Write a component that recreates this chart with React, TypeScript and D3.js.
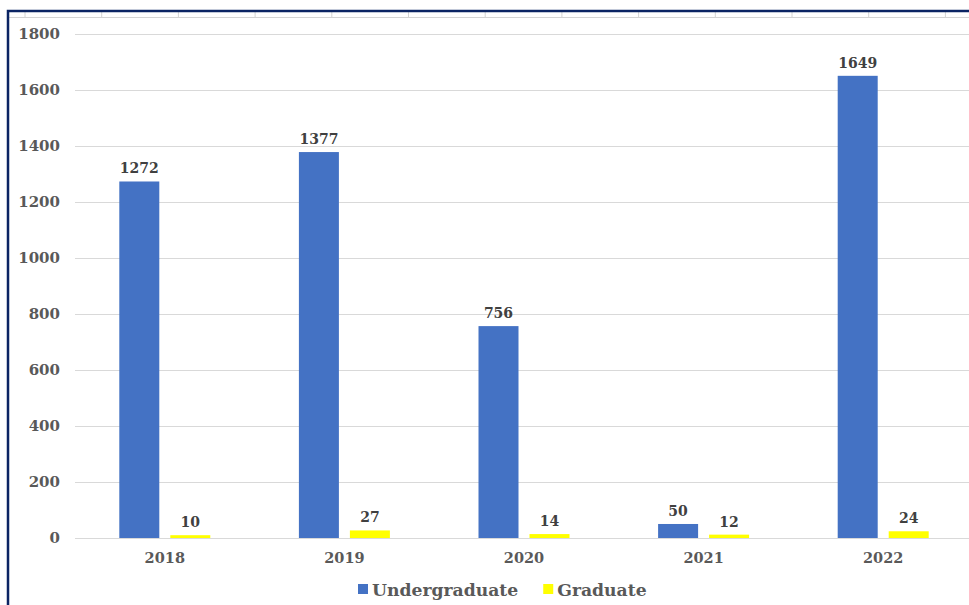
import React, { useEffect, useRef } from "react";
import * as d3 from "d3";

const years = ["2018", "2019", "2020", "2021", "2022"];
const undergraduate = [1272, 1377, 756, 50, 1649];
const graduate = [10, 27, 14, 12, 24];
const seriesNames = ["Undergraduate", "Graduate"];
const seriesColors = ["#4472C4", "#FFFF00"];
const yTicks = [0, 200, 400, 600, 800, 1000, 1200, 1400, 1600, 1800];

const W = 969;
const H = 605;
const FONT = "Georgia, 'DejaVu Serif', serif";

export default function App() {
  const svgRef = useRef<SVGSVGElement>(null);

  useEffect(() => {
    if (!svgRef.current) return;
    const svg = d3.select(svgRef.current);
    svg.selectAll("*").remove();

    svg.append("rect").attr("width", W).attr("height", H).attr("fill", "#fff");

    // spreadsheet frame behind the chart
    svg.append("line")
      .attr("x1", 9).attr("x2", W).attr("y1", 17.5).attr("y2", 17.5)
      .attr("stroke", "#d4d4d4").attr("stroke-width", 1);
    d3.range(13).forEach(i => {
      const cx = 25 + i * 76.7;
      svg.append("line")
        .attr("x1", cx).attr("x2", cx).attr("y1", 12).attr("y2", 17.5)
        .attr("stroke", "#d4d4d4").attr("stroke-width", 1);
    });
    svg.append("path")
      .attr("d", `M8,${H} L8,11 L${W},11`)
      .attr("fill", "none")
      .attr("stroke", "#0b2463")
      .attr("stroke-width", 2.5);

    const plotLeft = 75;
    const plotRight = 973;
    const y = d3.scaleLinear().domain([0, 1800]).range([538, 33.5]);
    const x0 = d3.scaleBand<string>().domain(years).range([plotLeft, plotRight]);
    const groupW = 91;
    const x1 = d3.scaleBand<string>().domain(seriesNames).range([0, groupW]).paddingInner(0.2157);

    // gridlines
    svg.append("g")
      .selectAll("line")
      .data(yTicks)
      .join("line")
      .attr("x1", plotLeft).attr("x2", W)
      .attr("y1", d => Math.round(y(d)) + 0.5).attr("y2", d => Math.round(y(d)) + 0.5)
      .attr("stroke", "#d9d9d9").attr("stroke-width", 1);

    // y tick labels
    svg.append("g")
      .selectAll("text")
      .data(yTicks)
      .join("text")
      .attr("x", 60)
      .attr("y", d => y(d) + 5)
      .attr("text-anchor", "end")
      .attr("font-family", FONT)
      .attr("font-weight", "bold")
      .attr("font-size", 15)
      .attr("fill", "#595959")
      .text(d => d);

    const seriesData = [undergraduate, graduate];
    years.forEach((yr, i) => {
      const gx = x0(yr)! + x0.bandwidth() / 2 - groupW / 2;
      seriesNames.forEach((s, j) => {
        const v = seriesData[j][i];
        const bx = gx + x1(s)!;
        svg.append("rect")
          .attr("x", bx)
          .attr("y", y(v))
          .attr("width", x1.bandwidth())
          .attr("height", y(0) - y(v))
          .attr("fill", seriesColors[j]);
        svg.append("text")
          .attr("x", bx + x1.bandwidth() / 2)
          .attr("y", y(v) - 8)
          .attr("text-anchor", "middle")
          .attr("font-family", FONT)
          .attr("font-weight", "bold")
          .attr("font-size", 14)
          .attr("fill", "#404040")
          .text(v);
      });
      svg.append("text")
        .attr("x", x0(yr)! + x0.bandwidth() / 2)
        .attr("y", 563)
        .attr("text-anchor", "middle")
        .attr("font-family", FONT)
        .attr("font-weight", "bold")
        .attr("font-size", 14.5)
        .attr("fill", "#595959")
        .text(yr);
    });

    // legend
    const legend = svg.append("g").attr("transform", "translate(358,0)");
    let lx = 0;
    seriesNames.forEach((s, j) => {
      legend.append("rect")
        .attr("x", lx).attr("y", 584).attr("width", 10).attr("height", 10)
        .attr("fill", seriesColors[j]);
      const t = legend.append("text")
        .attr("x", lx + 14)
        .attr("y", 596)
        .attr("font-family", FONT)
        .attr("font-weight", "bold")
        .attr("font-size", 17.2)
        .attr("fill", "#595959")
        .text(s);
      const tw = (t.node() as SVGTextElement).getComputedTextLength();
      lx += 14 + tw + 25;
    });
  }, []);

  return (
    <svg
      ref={svgRef}
      width={W}
      height={H}
      style={{ position: "absolute", left: 0, top: 0, display: "block" }}
    />
  );
}
